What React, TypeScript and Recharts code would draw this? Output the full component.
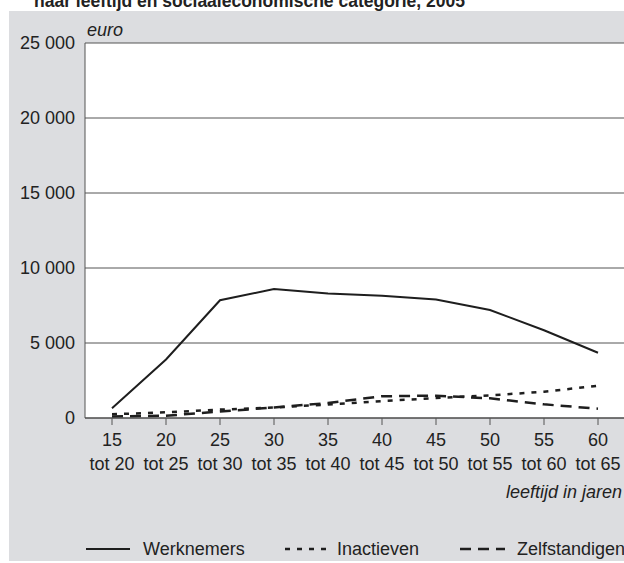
import React from "react";
import { ComposedChart, Line, XAxis, YAxis, CartesianGrid } from "recharts";

const ageFrom = ["15", "20", "25", "30", "35", "40", "45", "50", "55", "60"];
const ageTo = ["tot 20", "tot 25", "tot 30", "tot 35", "tot 40", "tot 45", "tot 50", "tot 55", "tot 60", "tot 65"];
const werknemers = [650, 3900, 7850, 8600, 8300, 8150, 7900, 7200, 5850, 4350];
const inactieven = [250, 380, 560, 700, 900, 1130, 1330, 1510, 1750, 2150];
const zelfstandigen = [100, 150, 430, 700, 1000, 1450, 1490, 1310, 910, 620];
const yTicks = [0, 5000, 10000, 15000, 20000, 25000];

const FONT = "'Liberation Sans', Arial, sans-serif";
const INK = "#1e1e1e";
const TEXT = "#222";
const FS = 18;

const rows = ageFrom.map((a, i) => ({
  age: a,
  werknemers: werknemers[i],
  inactieven: inactieven[i],
  zelfstandigen: zelfstandigen[i],
}));

const fmtThousands = (v: number) =>
  v >= 1000 ? `${Math.floor(v / 1000)} ${String(v % 1000).padStart(3, "0")}` : String(v);

const AgeTick = (props: any) => {
  const { x, y, payload } = props;
  const idx = ageFrom.indexOf(String(payload.value));
  return (
    <g>
      <text x={x} y={y + 19} textAnchor="middle" fill={TEXT} fontSize={FS} fontFamily={FONT}>
        {payload.value}
      </text>
      <text x={x} y={y + 43} textAnchor="middle" fill={TEXT} fontSize={FS} fontFamily={FONT}>
        {ageTo[idx]}
      </text>
    </g>
  );
};

const series = [
  { key: "werknemers", name: "Werknemers", dash: undefined, width: 2 },
  { key: "inactieven", name: "Inactieven", dash: "5 7", width: 2.5 },
  { key: "zelfstandigen", name: "Zelfstandigen", dash: "11 7", width: 2.5 },
];

const legendPos = [
  { x1: 86, x2: 130, tx: 143 },
  { x1: 285, x2: 327, tx: 337 },
  { x1: 460, x2: 505, tx: 517 },
];

export default function App() {
  return (
    <div
      style={{
        position: "fixed",
        left: 0,
        top: 0,
        width: 624,
        height: 563,
        overflow: "hidden",
        background: "#fff",
        fontFamily: FONT,
      }}
    >
      <div
        style={{
          position: "absolute",
          left: 9,
          top: 11,
          width: 615,
          height: 550,
          background: "#dcdde0",
        }}
      />
      <div style={{ position: "absolute", left: 0, top: 0 }}>
        <ComposedChart
          width={626}
          height={563}
          data={rows}
          margin={{ top: 43, right: 1, bottom: 85, left: 0 }}
        >
          <CartesianGrid fill="#fff" vertical={false} stroke="#555" strokeWidth={1} />
          <YAxis
            width={85}
            domain={[0, 25000]}
            ticks={yTicks}
            tickFormatter={(v) => fmtThousands(Number(v))}
            tickLine={false}
            tickSize={0}
            tickMargin={10}
            axisLine={{ stroke: "#555" }}
            tick={{ fill: TEXT, fontSize: FS, fontFamily: FONT }}
          />
          <XAxis
            dataKey="age"
            height={60}
            interval={0}
            padding={{ left: 27, right: 27 }}
            tickSize={7}
            tickMargin={2}
            tickLine={{ stroke: "#555" }}
            axisLine={{ stroke: "#444" }}
            tick={<AgeTick />}
          />
          {series.map((s) => (
            <Line
              key={s.key}
              type="linear"
              dataKey={s.key}
              name={s.name}
              stroke={INK}
              strokeWidth={s.width}
              strokeDasharray={s.dash}
              dot={false}
              activeDot={false}
              isAnimationActive={false}
            />
          ))}
        </ComposedChart>
      </div>
      <svg
        width={624}
        height={563}
        style={{ position: "absolute", left: 0, top: 0, pointerEvents: "none" }}
      >
        <text x={34} y={7} fontSize={17.5} fontWeight="bold" fill={TEXT} fontFamily={FONT}>
          naar leeftijd en sociaaleconomische categorie, 2005
        </text>
        <text x={87} y={36} fontSize={FS} fontStyle="italic" fill={TEXT} fontFamily={FONT}>
          euro
        </text>
        <text x={506} y={498} fontSize={FS} fontStyle="italic" fill={TEXT} fontFamily={FONT}>
          leeftijd in jaren
        </text>
        {series.map((s, i) => (
          <g key={s.key}>
            <line
              x1={legendPos[i].x1}
              x2={legendPos[i].x2}
              y1={549}
              y2={549}
              stroke={INK}
              strokeWidth={s.width}
              strokeDasharray={s.dash}
            />
            <text x={legendPos[i].tx} y={555} fontSize={FS} fill={TEXT} fontFamily={FONT}>
              {s.name}
            </text>
          </g>
        ))}
      </svg>
    </div>
  );
}
